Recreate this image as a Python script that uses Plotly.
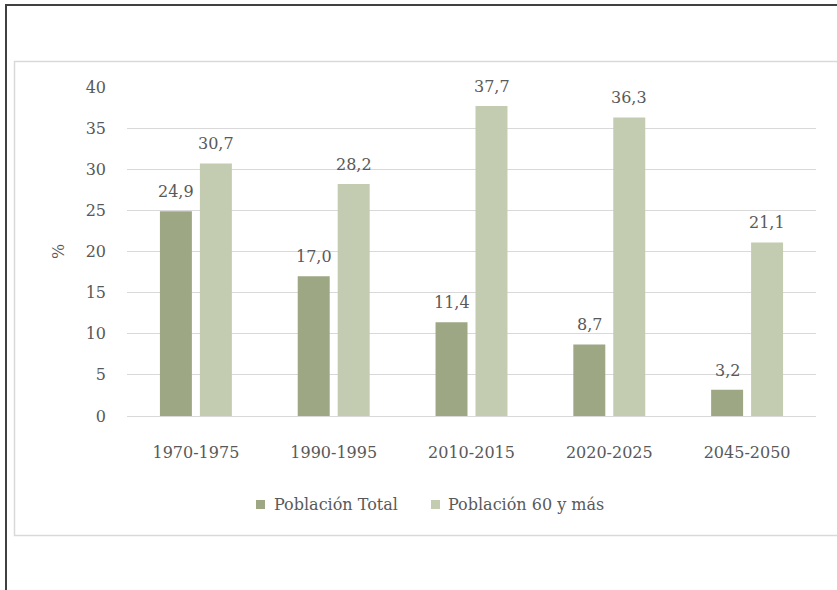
import plotly.graph_objects as go

periodos = ["1970-1975", "1990-1995", "2010-2015", "2020-2025", "2045-2050"]
poblacion_total = [24.9, 17.0, 11.4, 8.7, 3.2]
poblacion_60 = [30.7, 28.2, 37.7, 36.3, 21.1]
series_nombres = ["Población Total", "Población 60 y más"]
y_ticks = [0, 5, 10, 15, 20, 25, 30, 35, 40]

W, H = 837, 590
L, R, T, B = 127, 21, 87, 174
PW, PH = W - L - R, H - T - B

FONT = "DejaVu Serif"
FS = 16
GRAY = "#595959"
C_TOTAL = "#9da783"
C_60 = "#c3cbb0"


def px(x):
    return (x - L) / PW


def py(y):
    return (H - B - y) / PH


def fmt(v):
    return f"{v:.1f}".replace(".", ",")


fig = go.Figure()
fig.add_trace(go.Bar(x=periodos, y=poblacion_total, name=series_nombres[0],
                     marker=dict(color=C_TOTAL, line=dict(width=0))))
fig.add_trace(go.Bar(x=periodos, y=poblacion_60, name=series_nombres[1],
                     marker=dict(color=C_60, line=dict(width=0))))

annotations = []
for serie, shift in ((poblacion_total, -20), (poblacion_60, 20)):
    for cat, v in zip(periodos, serie):
        annotations.append(dict(x=cat, y=v, xref="x", yref="y", text=fmt(v),
                                showarrow=False, xshift=shift, yanchor="bottom",
                                yshift=8, font=dict(family=FONT, size=FS, color=GRAY)))

annotations.append(dict(x=px(58), y=py(252), xref="paper", yref="paper", text="%",
                        showarrow=False, textangle=-90, xanchor="center", yanchor="middle",
                        font=dict(family=FONT, size=FS, color=GRAY)))

shapes = [
    # outer frame
    dict(type="line", xref="paper", yref="paper", x0=px(6), x1=px(W + 5),
         y0=py(5), y1=py(5), line=dict(color="#404040", width=2)),
    dict(type="line", xref="paper", yref="paper", x0=px(6), x1=px(6),
         y0=py(4), y1=py(H + 5), line=dict(color="#404040", width=2)),
    # chart area border
    dict(type="rect", xref="paper", yref="paper", x0=px(14.5), x1=px(W + 10),
         y0=py(61.5), y1=py(535.5), line=dict(color="#d9d9d9", width=1.5)),
]

# legend: small square swatch followed by the series name
legend_pos = [(256, 272), (431, 446)]
for nombre, color, (sq, tx) in zip(series_nombres, (C_TOTAL, C_60), legend_pos):
    shapes.append(dict(type="rect", xref="paper", yref="paper",
                       x0=px(sq), x1=px(sq + 9), y0=py(500), y1=py(509),
                       fillcolor=color, line=dict(width=0)))
    annotations.append(dict(x=px(tx), y=py(505), xref="paper", yref="paper", text=nombre,
                            showarrow=False, xanchor="left", yanchor="middle",
                            font=dict(family=FONT, size=FS, color=GRAY)))

fig.update_layout(
    width=W, height=H,
    margin=dict(l=L, r=R, t=T, b=B, pad=0),
    paper_bgcolor="white", plot_bgcolor="white",
    barmode="group", bargap=0.42, bargroupgap=0.2,
    font=dict(family=FONT, size=FS, color=GRAY),
    showlegend=False,
    annotations=annotations,
    shapes=shapes,
)
fig.update_xaxes(showgrid=False, showline=True, linecolor="#d9d9d9", linewidth=1,
                 ticks="", ticklabelstandoff=22,
                 tickfont=dict(family=FONT, size=FS, color=GRAY), fixedrange=True)
fig.update_yaxes(range=[0, 40], tickvals=y_ticks, showgrid=True, gridcolor="#d9d9d9",
                 gridwidth=1, zeroline=False, showline=False, ticks="",
                 ticklabelstandoff=20,
                 tickfont=dict(family=FONT, size=FS, color=GRAY), fixedrange=True)

fig.write_html("out.html")
